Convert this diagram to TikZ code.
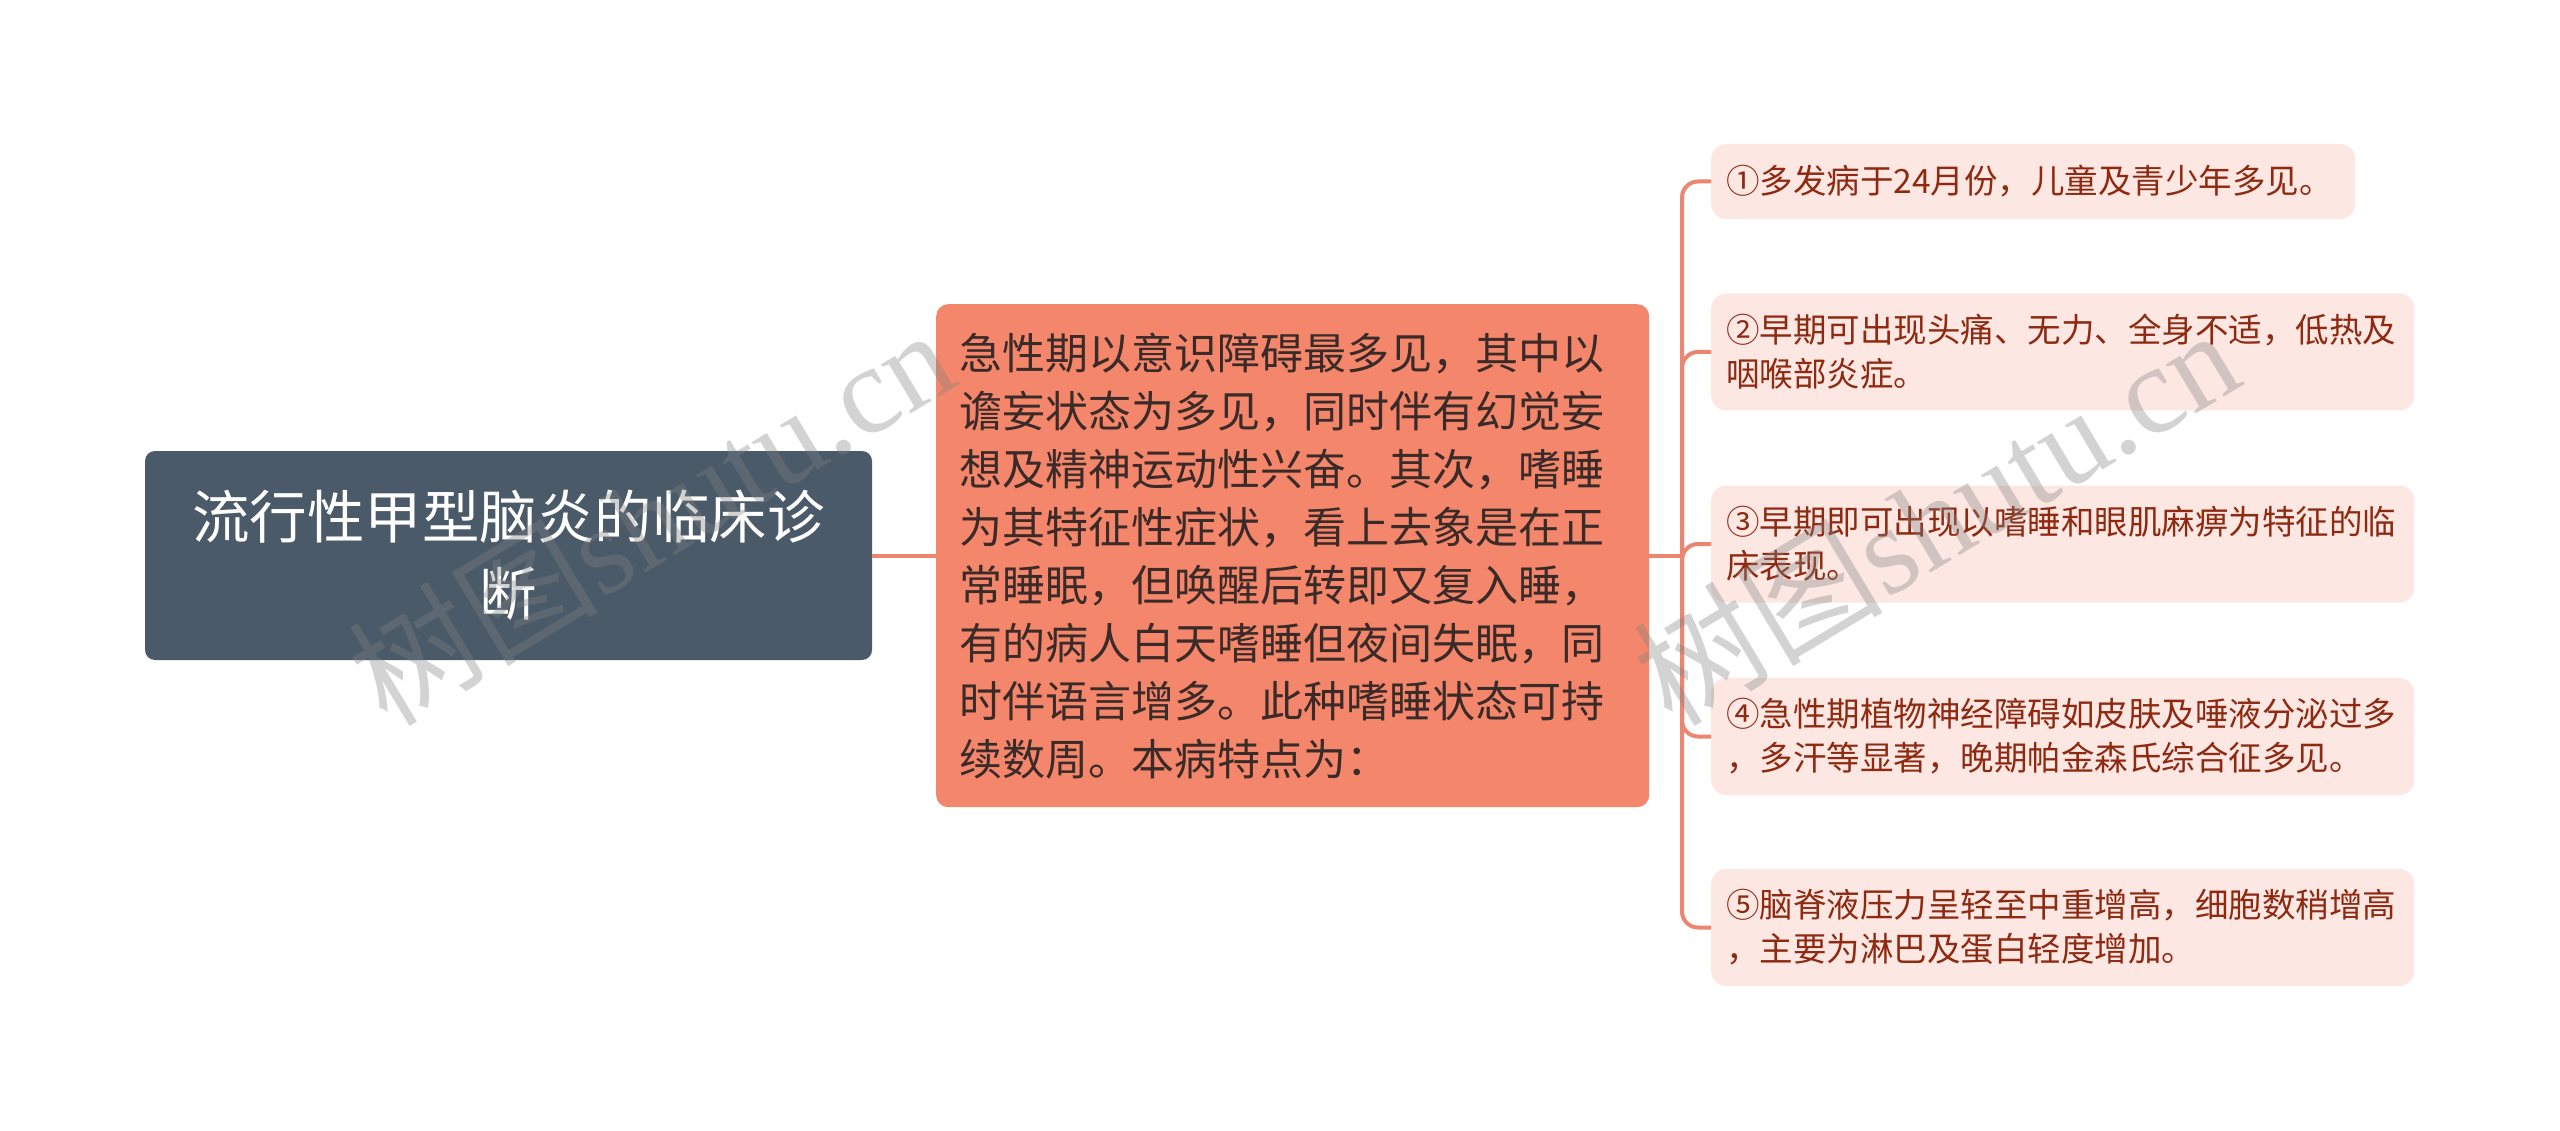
\documentclass[tikz,border=0pt]{standalone}
\usepackage{fontspec}
\setmainfont{Noto Sans CJK SC}
\newfontfamily\wmfont{Liberation Serif}
\newfontfamily\wmcjk{Noto Sans CJK SC}
\definecolor{rootfill}{HTML}{4A5A69}
\definecolor{midfill}{HTML}{F4876B}
\definecolor{linecol}{HTML}{EC8670}
\definecolor{leaffill}{HTML}{FDE7E2}
\definecolor{leaftext}{HTML}{8E2A12}
\definecolor{midtext}{HTML}{3A2A28}
\tikzset{
  rootbox/.style={draw=none, fill=rootfill, rounded corners=10pt, text=white,
    minimum width=727pt, minimum height=209pt, align=center, inner sep=0pt,
    font=\fontsize{57.5}{77}\selectfont},
  midbox/.style={draw=none, fill=midfill, rounded corners=12pt, text=midtext,
    minimum height=503pt, text width=667pt, inner xsep=23pt, inner ysep=0pt, align=left,
    font=\fontsize{43}{58}\selectfont},
  leafbox/.style={draw=none, fill=leaffill, rounded corners=15pt, text=leaftext,
    minimum height=117pt, text width=673pt, inner xsep=15pt, inner ysep=0pt, align=left,
    font=\fontsize{33.5}{44}\selectfont},
  conn/.style={draw=linecol, line width=4pt},
  wm/.style={rotate=31, text=gray, opacity=0.35, inner sep=0pt}
}
\begin{document}
\begin{tikzpicture}[x=1pt,y=-1pt]
\useasboundingbox (0,0) rectangle (2560,1131);
% nodes
\node[rootbox] (root) at (508.5,555.5) {流行性甲型脑炎的临床诊\\断};
\node[midbox, anchor=north west] (mid) at (936,304) {急性期以意识障碍最多见，其中以\\谵妄状态为多见，同时伴有幻觉妄\\想及精神运动性兴奋。其次，嗜睡\\为其特征性症状，看上去象是在正\\常睡眠，但唤醒后转即又复入睡，\\有的病人白天嗜睡但夜间失眠，同\\时伴语言增多。此种嗜睡状态可持\\续数周。本病特点为：};
\node[leafbox, anchor=west, minimum height=75pt, text width=614pt] (c1) at (1711,181.5) {①多发病于24月份，儿童及青少年多见。};
\node[leafbox, anchor=west] (c2) at (1711,352) {②早期可出现头痛、无力、全身不适，低热及\\咽喉部炎症。};
\node[leafbox, anchor=west] (c3) at (1711,544) {③早期即可出现以嗜睡和眼肌麻痹为特征的临\\床表现。};
\node[leafbox, anchor=west] (c4) at (1711,736.5) {④急性期植物神经障碍如皮肤及唾液分泌过多\\，多汗等显著，晚期帕金森氏综合征多见。};
\node[leafbox, anchor=west] (c5) at (1711,927.5) {⑤脑脊液压力呈轻至中重增高，细胞数稍增高\\，主要为淋巴及蛋白轻度增加。};
% connectors
\coordinate (bus) at (1682,555.5);
\draw[conn] (root.east) -- (mid.west |- root.east);
\draw[conn] (mid.east |- bus) -- (bus);
\foreach \c in {c1,c2,c3,c4,c5}{
  \draw[conn, rounded corners=16pt] (bus) |- (\c.west);
}
% watermarks
\node[wm] (wm1) at (650,515) {\fontsize{125}{125}\wmcjk 树图\wmfont shutu.cn};
\node[wm] (wm2) at (1935,515) {\fontsize{125}{125}\wmcjk 树图\wmfont shutu.cn};
\end{tikzpicture}
\end{document}
